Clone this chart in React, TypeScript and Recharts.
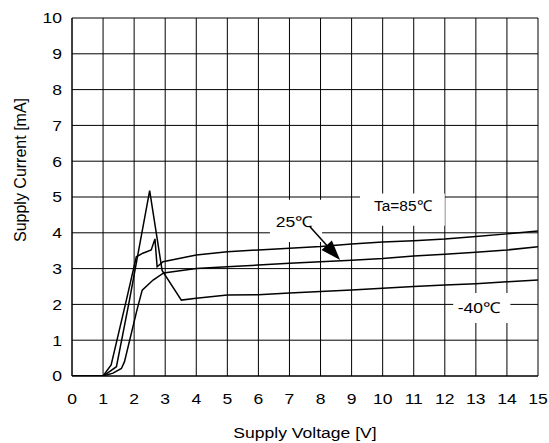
import React from "react";
import {
  LineChart,
  Line,
  XAxis,
  YAxis,
  CartesianGrid,
  ReferenceDot,
  ReferenceLine,
  ReferenceArea,
  Label,
} from "recharts";

// Supply current vs supply voltage, three ambient temperatures
const ta85V = [0, 1.0, 1.26, 1.75, 2.07, 2.28, 2.55, 2.67, 2.74, 2.93, 4, 5, 6, 7, 8, 9, 10, 11, 12, 13, 14, 15];
const ta85I = [0, 0, 0.31, 2.12, 3.33, 3.43, 3.52, 3.83, 3.05, 3.19, 3.38, 3.47, 3.52, 3.57, 3.62, 3.69, 3.74, 3.78, 3.83, 3.9, 3.97, 4.05];

const ta25V = [0, 1.0, 1.32, 1.59, 1.69, 2.09, 2.26, 2.61, 2.95, 4, 5, 6, 7, 8, 9, 10, 11, 12, 13, 14, 15];
const ta25I = [0, 0, 0.08, 0.21, 0.4, 1.84, 2.4, 2.68, 2.88, 3.0, 3.05, 3.1, 3.15, 3.19, 3.23, 3.28, 3.35, 3.4, 3.46, 3.52, 3.61];

const taM40V = [0, 1.0, 1.15, 1.43, 1.85, 2.5, 2.9, 3.52, 4, 5, 6, 7, 8, 9, 10, 11, 12, 13, 14, 15];
const taM40I = [0, 0, 0.09, 0.26, 2.12, 5.18, 2.95, 2.12, 2.17, 2.26, 2.27, 2.32, 2.36, 2.4, 2.45, 2.5, 2.54, 2.58, 2.63, 2.68];

const xTicks = [0, 1, 2, 3, 4, 5, 6, 7, 8, 9, 10, 11, 12, 13, 14, 15];
const yTicks = [0, 1, 2, 3, 4, 5, 6, 7, 8, 9, 10];

const toPoints = (vs: number[], is: number[]) => vs.map((v, i) => ({ v, i: is[i] }));

const series = [
  { name: "Ta=85℃", data: toPoints(ta85V, ta85I) },
  { name: "25℃", data: toPoints(ta25V, ta25I) },
  { name: "-40℃", data: toPoints(taM40V, taM40I) },
];

const FONT = "'Liberation Sans', Arial, sans-serif";
const FS = 15;
const SX = 1.17; // the original artwork's text is a bit wide

const WideText = ({ x, y, anchor, dy, sx = SX, children }: any) => (
  <text
    transform={`translate(${x} ${y}) scale(${sx} 1)`}
    x={0}
    y={0}
    dy={dy}
    textAnchor={anchor}
    fontFamily={FONT}
    fontSize={FS}
    fill="#000"
  >
    {children}
  </text>
);

const XTick = (p: any) => (
  <WideText x={p.x} y={p.y} anchor="middle" dy="0.71em">
    {p.payload.value}
  </WideText>
);

const YTick = (p: any) => (
  <WideText x={p.x} y={p.y} anchor="end" dy="0.36em">
    {p.payload.value}
  </WideText>
);

const textMark = (text: string, sx = SX) => (props: any) => (
  <WideText x={props.cx} y={props.cy} anchor="middle" dy="0.36em" sx={sx}>
    {text}
  </WideText>
);

const Arrow = (props: any) => {
  const { x1, y1, x2, y2 } = props;
  const ang = Math.atan2(y2 - y1, x2 - x1);
  const len = 20;
  const half = 7;
  const bx = x2 - len * Math.cos(ang);
  const by = y2 - len * Math.sin(ang);
  const px = -Math.sin(ang) * half;
  const py = Math.cos(ang) * half;
  return (
    <g>
      <line x1={x1} y1={y1} x2={bx} y2={by} stroke="#000" strokeWidth={1.5} />
      <polygon points={`${x2},${y2} ${bx + px},${by + py} ${bx - px},${by - py}`} fill="#000" />
    </g>
  );
};

const App = () => {
  return (
    <div style={{ position: "absolute", left: 0, top: 0 }}>
      <LineChart
        width={549}
        height={443}
        margin={{ top: 18, right: 11, bottom: 37, left: 32 }}
      >
        <CartesianGrid stroke="#000" strokeWidth={1} />
        <XAxis
          type="number"
          dataKey="v"
          domain={[0, 15]}
          ticks={xTicks}
          interval={0}
          allowDataOverflow
          height={30}
          axisLine={{ stroke: "#000" }}
          tickLine={false}
          tickSize={0}
          tickMargin={17}
          tick={<XTick />}
        >
          <Label
            content={(p: any) => {
              const vb = p.viewBox;
              return (
                <WideText x={vb.x + vb.width / 2} y={vb.y + 62} anchor="middle" dy={0}>
                  Supply Voltage [V]
                </WideText>
              );
            }}
          />
        </XAxis>
        <YAxis
          type="number"
          dataKey="i"
          domain={[0, 10]}
          ticks={yTicks}
          interval={0}
          allowDataOverflow
          width={40}
          axisLine={{ stroke: "#000" }}
          tickLine={false}
          tickSize={0}
          tickMargin={10}
          tick={<YTick />}
        >
          <Label
            content={(p: any) => {
              const vb = p.viewBox;
              const x = vb.x - 12;
              const y = vb.y + 152;
              return (
                <text
                  x={x}
                  y={y}
                  transform={`rotate(-90 ${x} ${y})`}
                  textAnchor="middle"
                  dominantBaseline="central"
                  fontFamily={FONT}
                  fontSize={16}
                  fill="#000"
                >
                  Supply Current [mA]
                </text>
              );
            }}
          />
        </YAxis>
        {/* white panels behind the curve labels */}
        <ReferenceArea x1={9.27} x2={12.0} y1={4.2} y2={5.1} fill="#fff" fillOpacity={1} stroke="none" />
        <ReferenceArea x1={6.37} x2={8.05} y1={3.74} y2={4.92} fill="#fff" fillOpacity={1} stroke="none" />
        <ReferenceArea x1={12.27} x2={14.11} y1={1.48} y2={2.32} fill="#fff" fillOpacity={1} stroke="none" />
        {series.map((s) => (
          <Line
            key={s.name}
            name={s.name}
            data={s.data}
            dataKey="i"
            type="linear"
            stroke="#000"
            strokeWidth={1.5}
            dot={false}
            activeDot={false}
            isAnimationActive={false}
          />
        ))}
        <ReferenceLine
          segment={[
            { x: 7.66, y: 4.17 },
            { x: 8.63, y: 3.24 },
          ]}
          shape={Arrow}
        />
        <ReferenceDot x={10.65} y={4.76} r={0} shape={textMark("Ta=85℃", 1.03)} />
        <ReferenceDot x={7.15} y={4.3} r={0} shape={textMark("25℃")} />
        <ReferenceDot x={13.1} y={1.91} r={0} shape={textMark("-40℃")} />
      </LineChart>
    </div>
  );
};

export default App;
